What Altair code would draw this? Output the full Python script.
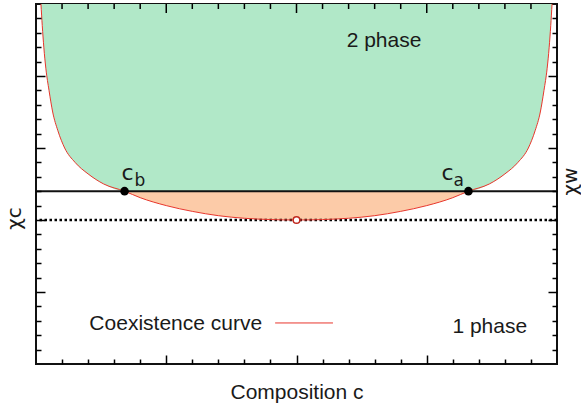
import altair as alt
import pandas as pd

# Coexistence curve (composition c, chi)
c_vals = [0.0095, 0.012, 0.015, 0.019, 0.025, 0.032, 0.042, 0.055, 0.075, 0.10, 0.13, 0.17,
          0.20, 0.25, 0.30, 0.35, 0.40, 0.45, 0.50, 0.55, 0.60, 0.65, 0.70, 0.75, 0.80,
          0.83, 0.87, 0.90, 0.925, 0.945, 0.958, 0.968, 0.975, 0.981, 0.985, 0.988, 0.9905]
chi_vals = [25.0, 23.5, 22.0, 20.5, 19.0, 17.5, 16.2, 15.0, 14.0, 13.2, 12.5, 12.0,
            11.55, 11.0, 10.6, 10.3, 10.12, 10.03, 10.0, 10.03, 10.12, 10.3, 10.6, 11.0, 11.55,
            12.0, 12.5, 13.2, 14.0, 15.0, 16.2, 17.5, 19.0, 20.5, 22.0, 23.5, 25.0]

chi_c = 10.0
chi_w = 12.0
coex_c = [0.17, 0.83]          # c_b, c_a
coex_names = ["b", "a"]
crit_c = [0.5]

x_minor = [0.05, 0.10, 0.15, 0.20, 0.30, 0.35, 0.40, 0.45, 0.55, 0.60, 0.65, 0.70,
           0.80, 0.85, 0.90, 0.95]
x_major = [0.25, 0.50, 0.75]
y_minor = [1, 2, 3, 4, 6, 7, 8, 9, 11, 12, 13, 14, 16, 17, 18, 19, 21, 22, 23, 24]
y_major = [5, 10, 15, 20]

W, H = 521, 360
GREEN = "#b1e8c8"
ORANGE = "#fccba8"
RED = "#e8362c"
TXT = "#1a1a1a"
SANS = "Liberation Sans"
DJV = "DejaVu Sans"
FS = 21

curve = pd.DataFrame({"c": c_vals, "chi": chi_vals})
pts = pd.DataFrame({"c": coex_c, "chi": [chi_w, chi_w], "name": coex_names})
crit = pd.DataFrame({"c": crit_c, "chi": [chi_c]})
top_minor = pd.DataFrame({"c": x_minor})
top_major = pd.DataFrame({"c": x_major})

xs = alt.Scale(domain=[0, 1], nice=False, zero=False)
ys = alt.Scale(domain=[0, 25], nice=False, zero=False)


def tick_axis(orient, values, size, offset):
    return alt.Axis(orient=orient, offset=offset, values=values, tickSize=size,
                    labels=False, domain=False, grid=False, title=None,
                    tickColor="black", tickWidth=1.5, zindex=2)


green = alt.Chart(curve).transform_calculate(
    lo="max(datum.chi, 12)"
).mark_area(color=GREEN, interpolate="monotone").encode(
    x=alt.X("c:Q", scale=xs, axis=alt.Axis(orient="bottom", title="Composition c", labels=False,
                                           ticks=False, domain=False, grid=False,
                                           titleFontSize=FS, titleFont=SANS,
                                           titleFontWeight="normal", titleColor=TXT,
                                           titlePadding=17)),
    y=alt.Y("lo:Q", scale=ys, axis=tick_axis("right", y_minor, 5, -W)),
    y2=alt.datum(25),
)

orange = alt.Chart(curve).transform_filter(
    "datum.c >= 0.17 && datum.c <= 0.83"
).mark_area(color=ORANGE, interpolate="monotone").encode(
    x=alt.X("c:Q", scale=xs, axis=tick_axis("top", x_minor, 5, -H)),
    y=alt.Y("chi:Q", scale=ys, axis=tick_axis("right", y_major, 9, -W)),
    y2=alt.datum(chi_w),
)

dotted = alt.Chart(crit).mark_rule(color="black", strokeWidth=2.5, strokeDash=[2.5, 2.5]).encode(
    y=alt.Y("chi:Q", scale=ys, axis=None),
)

solid = alt.Chart(pts).mark_rule(color="#111111", strokeWidth=2).encode(
    y=alt.Y("mean(chi):Q", scale=ys, axis=None),
)

line = alt.Chart(curve).mark_line(color=RED, strokeWidth=1, interpolate="monotone").encode(
    x=alt.X("c:Q", scale=xs, axis=None),
    y=alt.Y("chi:Q", scale=ys, axis=tick_axis("left", y_minor, 5, -W)),
)

dots = alt.Chart(pts).mark_circle(color="black", size=75, opacity=1).encode(
    x=alt.X("c:Q", scale=xs, axis=tick_axis("top", x_major, 9, -H)),
    y=alt.Y("chi:Q", scale=ys, axis=tick_axis("left", y_major, 9, -W)),
)

critpt = alt.Chart(crit).mark_point(color="#c0281e", size=45, strokeWidth=1.5, filled=False,
                                    fill="white", fillOpacity=1).encode(
    x=alt.X("c:Q", scale=xs, axis=None),
    y=alt.Y("chi:Q", scale=ys, axis=None),
)

# inward ticks along the top edge
top_ticks_minor = alt.Chart(top_minor).mark_rule(color="black", strokeWidth=1.5).encode(
    x=alt.X("c:Q", scale=xs, axis=None), y=alt.value(0), y2=alt.value(5),
)
top_ticks_major = alt.Chart(top_major).mark_rule(color="black", strokeWidth=1.5).encode(
    x=alt.X("c:Q", scale=xs, axis=None), y=alt.value(0), y2=alt.value(9),
)


# point labels c_b, c_a (main letter + subscript)
def point_label(name, text, size, dx, dy):
    return alt.Chart(pts).transform_filter(f"datum.name == '{name}'").transform_calculate(
        t=f"'{text}'"
    ).mark_text(font=DJV, fontSize=size, align="left", baseline="alphabetic", color=TXT,
                dx=dx, dy=dy).encode(
        x=alt.X("c:Q", scale=xs, axis=None), y=alt.Y("chi:Q", scale=ys, axis=None), text="t:N",
    )


lab_b_main = point_label("b", "c", 22, -3, -11)
lab_b_sub = point_label("b", "b", 17, 10, -5)
lab_a_main = point_label("a", "c", 22, -27, -11)
lab_a_sub = point_label("a", "a", 17, -15, -5)

# region labels
regions = pd.DataFrame({"c": [0.668, 0.871], "chi": [22.4, 2.6], "t": ["2 phase", "1 phase"]})
reg_txt = alt.Chart(regions).mark_text(font=SANS, fontSize=FS, align="center", baseline="middle",
                                       color=TXT).encode(
    x=alt.X("c:Q", scale=xs, axis=None), y=alt.Y("chi:Q", scale=ys, axis=None), text="t:N",
)

# key
key_txt_df = pd.DataFrame({"c": [0.434], "chi": [2.75], "t": ["Coexistence curve"]})
key_txt = alt.Chart(key_txt_df).mark_text(font=SANS, fontSize=FS, align="right", baseline="middle",
                                          color=TXT).encode(
    x=alt.X("c:Q", scale=xs, axis=None), y=alt.Y("chi:Q", scale=ys, axis=None), text="t:N",
)
key_line_df = pd.DataFrame({"c": [0.459], "c2": [0.570], "chi": [2.85]})
key_line = alt.Chart(key_line_df).mark_rule(color=RED, strokeWidth=1).encode(
    x=alt.X("c:Q", scale=xs, axis=None), x2="c2:Q", y=alt.Y("chi:Q", scale=ys, axis=None),
)

# rotated side labels chi_c and chi_w
side_df = pd.DataFrame({"chi": [10.1], "t": ["χc"]})
side_l = alt.Chart(side_df).mark_text(font=DJV, fontSize=20, angle=270, align="center",
                                      baseline="middle", color=TXT).encode(
    x=alt.value(-21), y=alt.Y("chi:Q", scale=ys, axis=None), text="t:N",
)
side_df2 = pd.DataFrame({"chi": [12.67], "t": ["χw"]})
side_r = alt.Chart(side_df2).mark_text(font=DJV, fontSize=20, angle=270, align="center",
                                       baseline="middle", color=TXT).encode(
    x=alt.value(W + 14), y=alt.Y("chi:Q", scale=ys, axis=None), text="t:N",
)

chart = alt.layer(
    green, orange, dotted, solid, line, dots, critpt, top_ticks_minor, top_ticks_major,
    lab_b_main, lab_b_sub, lab_a_main, lab_a_sub, reg_txt,
    key_txt, key_line, side_l, side_r,
).resolve_axis(x="independent", y="independent").properties(
    width=W, height=H,
    padding={"left": 36, "top": 4, "right": 24, "bottom": 44},
    autosize=alt.AutoSizeParams(type="none"),
    background="white",
).configure_view(stroke="#111111", strokeWidth=2)

chart.save("out.html", embed_options={"renderer": "svg", "actions": False})
